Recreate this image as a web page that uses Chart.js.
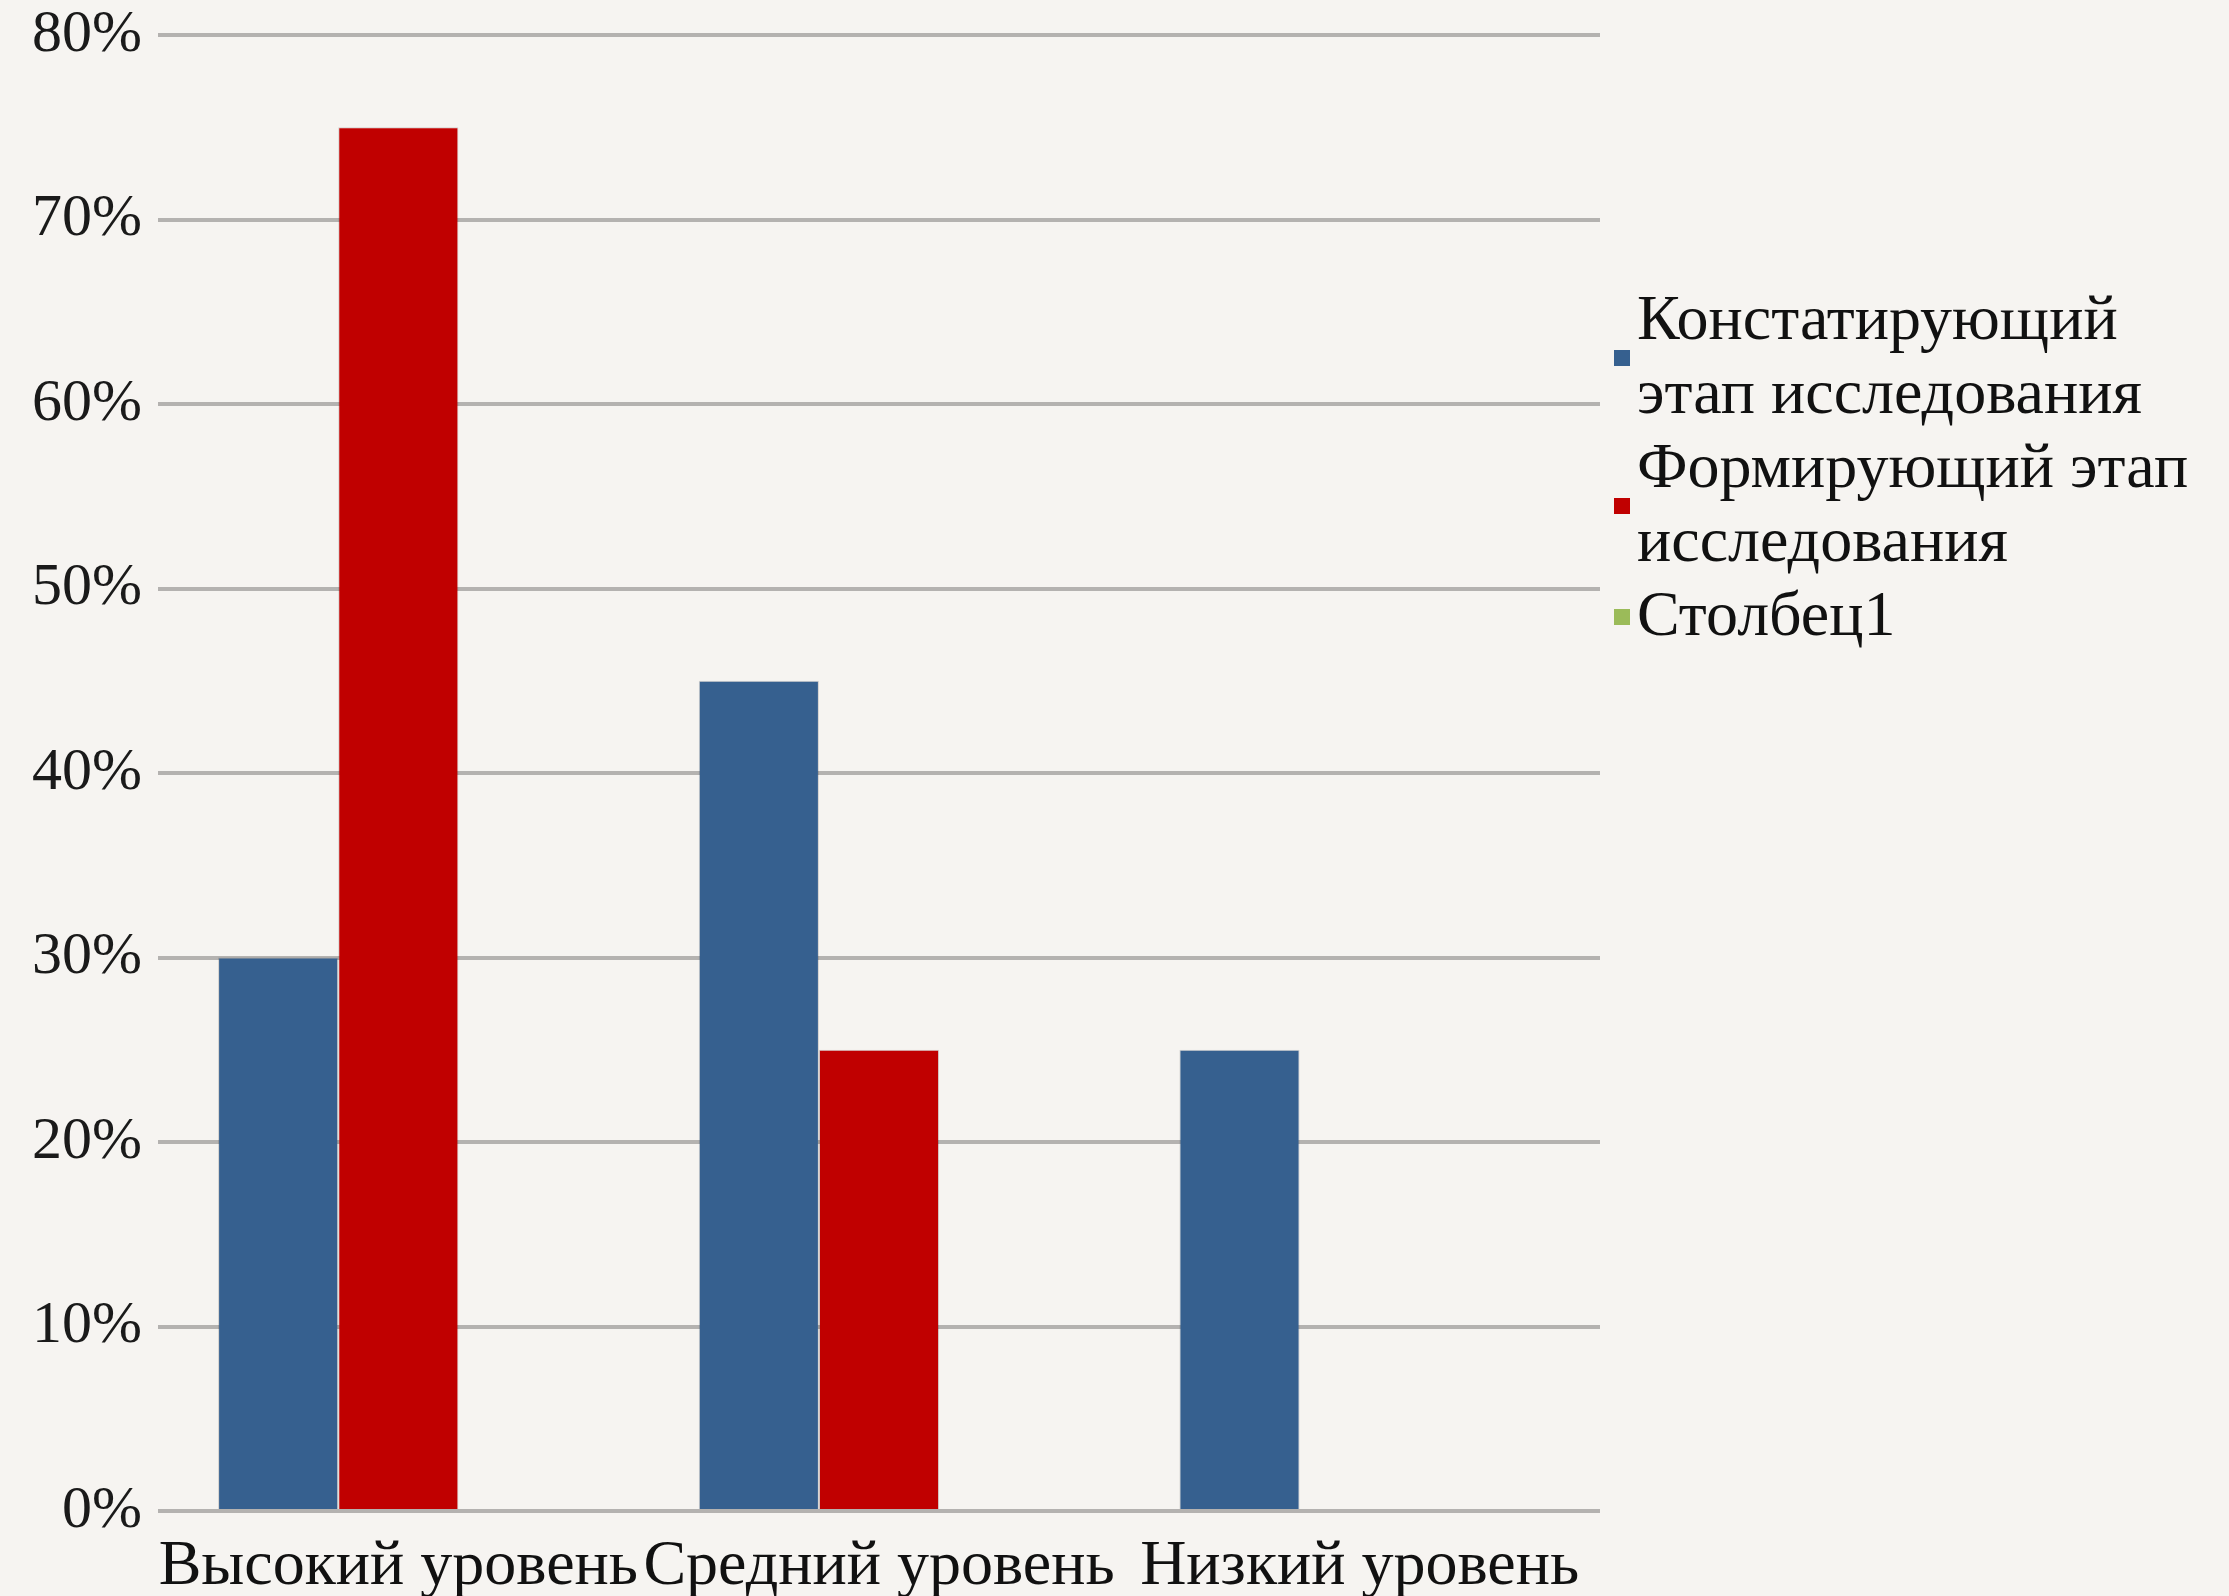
<!DOCTYPE html>
<html lang="ru">
<head>
<meta charset="utf-8">
<title>Уровни</title>
<script src="https://cdn.jsdelivr.net/npm/chart.js@4.4.1/dist/chart.umd.min.js"></script>
<style>
  html, body { margin: 0; padding: 0; }
  body { background: #f6f4f1; overflow: hidden; }
  #wrap { width: 2229px; height: 1596px; position: relative; }
</style>
</head>
<body>
<div id="wrap"><canvas id="grafico"></canvas></div>
<script>
// данные диаграммы
const categorias = ['Высокий уровень', 'Средний уровень', 'Низкий уровень'];
const nomesSeries = ['Констатирующий этап исследования', 'Формирующий этап исследования', 'Столбец1'];
const constatiruyushchiy = [30, 45, 25];
const formiruyushchiy = [75, 25, 0];
const stolbec1 = [null, null, null];
const ticksY = [0, 10, 20, 30, 40, 50, 60, 70, 80];

const cores = ['#36608f', '#c00000', '#9bbb59'];
const fonte = '"Liberation Serif", "DejaVu Serif", serif';

// legenda à direita, com quebra de linha como no Excel
const legendaPlugin = {
  id: 'legendaDireita',
  afterDraw(chart) {
    const ctx = chart.ctx;
    const x0 = 1614;
    const xTexto = 1637;
    const larguraMax = 570;
    const alturaLinha = 74;
    let y = 322;

    ctx.save();
    ctx.font = '64px ' + fonte;
    ctx.textBaseline = 'middle';
    ctx.textAlign = 'left';

    chart.data.datasets.forEach(ds => {
      const palavras = ds.label.split(' ');
      const linhas = [];
      let atual = '';
      palavras.forEach(p => {
        const teste = atual ? atual + ' ' + p : p;
        if (ctx.measureText(teste).width > larguraMax && atual) {
          linhas.push(atual);
          atual = p;
        } else {
          atual = teste;
        }
      });
      linhas.push(atual);

      const centro = y + (linhas.length - 1) * alturaLinha / 2;
      ctx.fillStyle = ds.backgroundColor;
      ctx.fillRect(x0, centro - 9, 16, 16);

      ctx.fillStyle = '#111';
      linhas.forEach((l, k) => {
        ctx.fillText(l, xTexto, y + k * alturaLinha);
      });
      y += linhas.length * alturaLinha;
    });
    ctx.restore();
  }
};

function gerarGrafico() {
  const ctx = document.getElementById('grafico').getContext('2d');

  const datasets = [constatiruyushchiy, formiruyushchiy, stolbec1].map((valores, i) => ({
    label: nomesSeries[i],
    data: valores,
    backgroundColor: cores[i],
    borderColor: 'rgba(0,0,0,0.15)',
    borderWidth: 1,
    categoryPercentage: 0.75,
    barPercentage: 1.0
  }));

  new Chart(ctx, {
    type: 'bar',
    data: { labels: categorias, datasets: datasets },
    options: {
      responsive: true,
      maintainAspectRatio: false,
      animation: false,
      layout: { padding: { top: 35, right: 629, left: 0, bottom: 0 } },
      scales: {
        y: {
          min: 0,
          max: 80,
          afterBuildTicks: scale => { scale.ticks = ticksY.map(v => ({ value: v })); },
          afterFit: scale => {
            scale.width = 158;
            scale.paddingTop = 0;
            scale.paddingBottom = 0;
          },
          border: { display: false },
          grid: { color: '#b4b2b0', lineWidth: 4, drawTicks: false },
          ticks: {
            padding: 16,
            color: '#1a1a1a',
            font: { family: fonte, size: 60 },
            callback: v => v + '%'
          }
        },
        x: {
          afterFit: scale => {
            scale.height = 85;
            scale.paddingLeft = 0;
            scale.paddingRight = 0;
          },
          border: { display: false },
          grid: { display: false },
          ticks: {
            padding: 10,
            color: '#111',
            maxRotation: 0,
            autoSkip: false,
            font: { family: fonte, size: 64 }
          }
        }
      },
      plugins: {
        legend: { display: false },
        tooltip: { enabled: false }
      }
    },
    plugins: [legendaPlugin]
  });
}

gerarGrafico();
</script>
</body>
</html>
